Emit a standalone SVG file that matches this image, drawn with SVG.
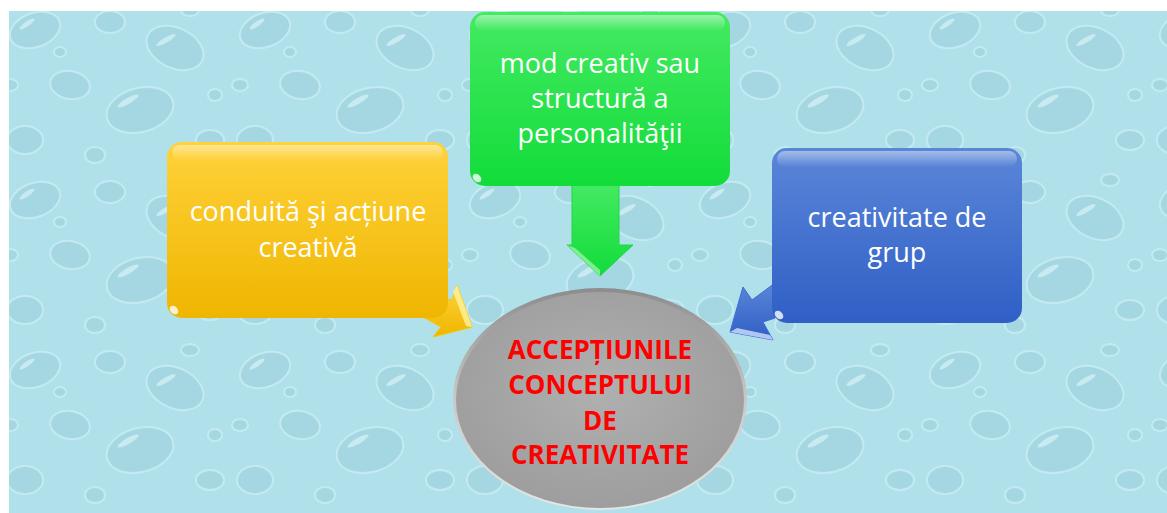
<svg xmlns="http://www.w3.org/2000/svg" width="1167" height="513" viewBox="0 0 1167 513">
<style>
.lbl{font-family:"Open Sans","Noto Sans","Liberation Sans",sans-serif;font-size:27px;fill:#ffffff;text-anchor:middle}
.ctr{font-family:"Open Sans","Noto Sans","Liberation Sans",sans-serif;font-size:26px;font-weight:bold;fill:#ff0000;text-anchor:middle}
.hl{fill:url(#hiGrad)}
.glint{fill:#ffffff;opacity:0.8}
.d{fill:#a5d7e2;stroke:#c8edf3;stroke-width:2;stroke-opacity:0.8}
.s{fill:#e0f6fa;opacity:0.6}
</style>
<defs>
<pattern id="drops" width="230" height="170" patternUnits="userSpaceOnUse">
<rect width="230" height="170" fill="#b0e1ea"/>
<ellipse class="d" cx="35" cy="30" rx="26" ry="17" transform="rotate(-20 35 30)"/>
<ellipse class="s" cx="27" cy="24" rx="9" ry="2.5" transform="rotate(-35 27 24)"/>
<ellipse class="d" cx="110" cy="22" rx="15" ry="11"/>
<ellipse class="d" cx="175" cy="48" rx="30" ry="20" transform="rotate(25 175 48)"/>
<ellipse class="s" cx="166" cy="40" rx="11" ry="2.5" transform="rotate(-30 166 40)"/>
<ellipse class="d" cx="70" cy="85" rx="20" ry="14" transform="rotate(10 70 85)"/>
<ellipse class="d" cx="140" cy="110" rx="34" ry="22" transform="rotate(-15 140 110)"/>
<ellipse class="s" cx="128" cy="101" rx="12" ry="3" transform="rotate(-30 128 101)"/>
<ellipse class="d" cx="25" cy="140" rx="18" ry="14"/>
<ellipse class="d" cx="210" cy="140" rx="14" ry="10"/>
<ellipse class="d" cx="95" cy="155" rx="10" ry="8"/>
<ellipse class="d" cx="60" cy="52" rx="6" ry="5"/>
<ellipse class="d" cx="215" cy="95" rx="7" ry="6"/>
<ellipse class="d" cx="10" cy="85" rx="8" ry="6"/>
<ellipse class="d" cx="190" cy="10" rx="9" ry="6"/>
</pattern>
<linearGradient id="yel" x1="0" y1="0" x2="0" y2="1"><stop offset="0" stop-color="#ffd23a"/><stop offset="1" stop-color="#efb600"/></linearGradient>
<linearGradient id="grn" x1="0" y1="0" x2="0" y2="1"><stop offset="0" stop-color="#44ea62"/><stop offset="1" stop-color="#12dc3a"/></linearGradient>
<linearGradient id="blu" x1="0" y1="0" x2="0" y2="1"><stop offset="0" stop-color="#5b86d8"/><stop offset="1" stop-color="#2f5fc6"/></linearGradient>
<radialGradient id="gry" cx="0.5" cy="0.45" r="0.6"><stop offset="0" stop-color="#b0b0b0"/><stop offset="1" stop-color="#9c9c9c"/></radialGradient>
<linearGradient id="hiGrad" x1="0" y1="0" x2="0" y2="1"><stop offset="0" stop-color="#ffffff" stop-opacity="0.45"/><stop offset="1" stop-color="#ffffff" stop-opacity="0"/></linearGradient>
<linearGradient id="rim" x1="0" y1="0" x2="0" y2="1"><stop offset="0" stop-color="#8c8c8c"/><stop offset="0.5" stop-color="#c8c8c8"/><stop offset="1" stop-color="#e6e6e6"/></linearGradient>
</defs>

<rect x="0" y="0" width="1167" height="513" fill="#ffffff"/>
<rect x="9" y="11" width="1158" height="502" fill="url(#drops)"/>

<g id="connectors">
<path d="M 440 298 L 452 300 L 457 285 L 472 327 L 433 337 L 441 327 L 423 317 Z" fill="url(#yel)" stroke="#f7c800" stroke-width="1"/>
<path d="M 457 285 L 472 327 L 466 326 L 453 292 Z" fill="#fff3a0" opacity="0.8"/>
<path d="M 572 184 L 619 184 L 619 245 L 633 245 L 600 276 L 567 245 L 572 245 Z" fill="url(#grn)" stroke="#1ed846" stroke-width="1"/>
<path d="M 567 245 L 600 276 L 600 270 L 575 248 Z" fill="#a8f5b5" opacity="0.7"/>
<path d="M 775 283 L 752 300 L 743 287 L 730 332 L 773 340 L 763 322 L 775 318 Z" fill="url(#blu)" stroke="#3d6ad0" stroke-width="1"/>
<path d="M 730 332 L 773 340 L 770 335 L 737 328 Z" fill="#c8d8f8" opacity="0.85"/>
</g>

<g id="node-conduita">
<rect x="167" y="142" width="281" height="176" rx="15" fill="url(#yel)"/>
<rect x="172" y="145" width="271" height="16" rx="8" class="hl"/>
<ellipse cx="174" cy="310" rx="5" ry="3.5" transform="rotate(45 174 310)" class="glint"/>
<text class="lbl" x="308" y="221">conduită şi acțiune</text>
<text class="lbl" x="308" y="257">creativă</text>
</g>

<g id="node-mod">
<rect x="470" y="12" width="260" height="174" rx="15" fill="url(#grn)"/>
<rect x="475" y="15" width="250" height="16" rx="8" class="hl"/>
<ellipse cx="477" cy="178" rx="5" ry="3.5" transform="rotate(45 477 178)" class="glint"/>
<text class="lbl" x="600" y="73">mod creativ sau</text>
<text class="lbl" x="600" y="108">structură a</text>
<text class="lbl" x="600" y="143">personalităţii</text>
</g>

<g id="node-grup">
<rect x="772" y="148" width="250" height="175" rx="15" fill="url(#blu)"/>
<rect x="777" y="151" width="240" height="16" rx="8" class="hl"/>
<ellipse cx="779" cy="315" rx="5" ry="3.5" transform="rotate(45 779 315)" class="glint"/>
<text class="lbl" x="897" y="227">creativitate de</text>
<text class="lbl" x="897" y="262">grup</text>
</g>

<g id="node-centru">
<ellipse cx="600" cy="399" rx="147" ry="111" fill="url(#rim)"/>
<ellipse cx="600" cy="400" rx="144" ry="108" fill="url(#gry)"/>
<text class="ctr" x="600" y="359">ACCEPȚIUNILE</text>
<text class="ctr" x="600" y="394">CONCEPTULUI</text>
<text class="ctr" x="600" y="430">DE</text>
<text class="ctr" x="600" y="464">CREATIVITATE</text>
</g>
</svg>
